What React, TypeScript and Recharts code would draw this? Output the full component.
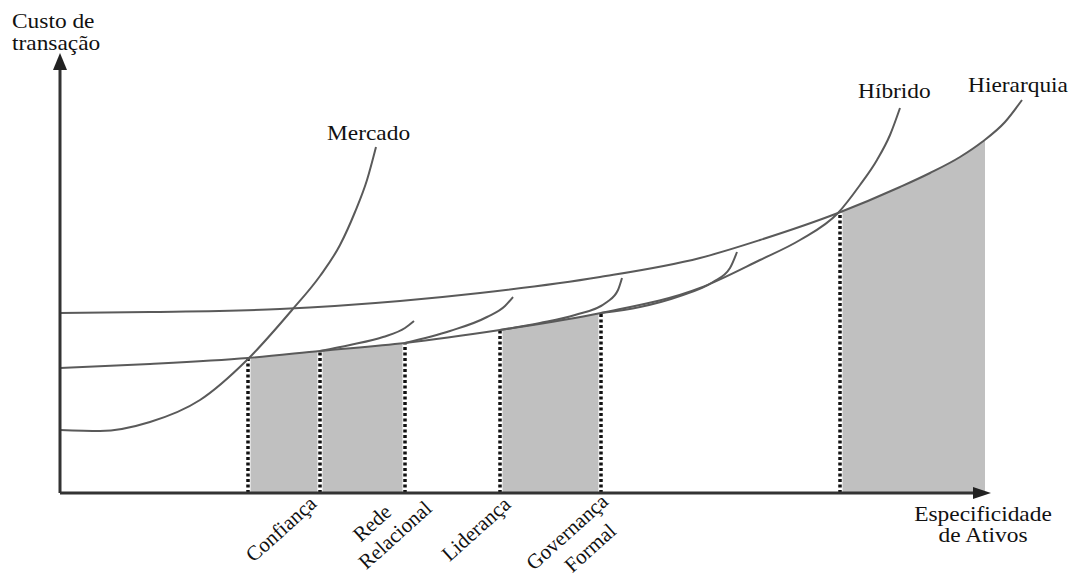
import React from 'react';
import { ComposedChart, Line, Area, XAxis, YAxis, ReferenceLine, ReferenceDot } from 'recharts';

// spec = especificidade de ativos, cost = custo de transação
const mercado = [
  { spec: 0, cost: 63 }, { spec: 40, cost: 62 }, { spec: 90, cost: 71 }, { spec: 140, cost: 93 },
  { spec: 187, cost: 133 }, { spec: 232, cost: 183 }, { spec: 260, cost: 217 }, { spec: 280, cost: 248 },
  { spec: 295, cost: 281 }, { spec: 307, cost: 313 }, { spec: 316, cost: 346 },
];

const hibrido = [
  { spec: 0, cost: 125 }, { spec: 90, cost: 129 }, { spec: 188, cost: 135 }, { spec: 260, cost: 142 },
  { spec: 345, cost: 150 }, { spec: 440, cost: 163 }, { spec: 541, cost: 180 }, { spec: 640, cost: 205 },
  { spec: 700, cost: 233 }, { spec: 740, cost: 253 }, { spec: 778, cost: 280 }, { spec: 800, cost: 308 },
  { spec: 817, cost: 333 }, { spec: 830, cost: 358 }, { spec: 840, cost: 385 },
];

const hierarquia = [
  { spec: 0, cost: 180 }, { spec: 90, cost: 181 }, { spec: 220, cost: 184 }, { spec: 340, cost: 192 },
  { spec: 420, cost: 200 }, { spec: 540, cost: 216 }, { spec: 640, cost: 235 }, { spec: 700, cost: 253 },
  { spec: 778, cost: 280 }, { spec: 840, cost: 306 }, { spec: 870, cost: 320 }, { spec: 900, cost: 336 },
  { spec: 922, cost: 351 }, { spec: 945, cost: 371 }, { spec: 962, cost: 393 },
];

// small branches leaving the hybrid curve
const ramo1 = [{ spec: 260, cost: 142 }, { spec: 290, cost: 148 }, { spec: 323, cost: 156 }, { spec: 345, cost: 165 }, { spec: 354, cost: 172 }];
const ramo2 = [{ spec: 345, cost: 150 }, { spec: 390, cost: 162 }, { spec: 427, cost: 176 }, { spec: 445, cost: 187 }, { spec: 453, cost: 196 }];
const ramo3 = [{ spec: 440, cost: 163 }, { spec: 480, cost: 170 }, { spec: 515, cost: 178 }, { spec: 547, cost: 191 }, { spec: 558, cost: 203 }, { spec: 562, cost: 215 }];
const ramo4 = [{ spec: 541, cost: 180 }, { spec: 580, cost: 186 }, { spec: 620, cost: 197 }, { spec: 653, cost: 211 }, { spec: 670, cost: 225 }, { spec: 677, cost: 241 }];

// shaded regions
const sombra1 = [{ spec: 188, cost: 135 }, { spec: 260, cost: 142 }];
const sombra2 = [{ spec: 260, cost: 142 }, { spec: 345, cost: 150 }];
const sombra3 = [{ spec: 440, cost: 163 }, { spec: 541, cost: 180 }];
const sombra4 = [{ spec: 778, cost: 280 }, { spec: 840, cost: 306 }, { spec: 870, cost: 320 }, { spec: 900, cost: 336 }, { spec: 925, cost: 353 }];

// dotted verticals
const divisoes = [
  { spec: 188, cost: 135 }, { spec: 260, cost: 142 }, { spec: 345, cost: 150 },
  { spec: 440, cost: 163 }, { spec: 541, cost: 180 }, { spec: 780, cost: 280 },
];

const tickValues = [260, 345, 440, 541];
const tickLabels = [['Confiança'], ['Rede', 'Relacional'], ['Liderança'], ['Governança', 'Formal']];
const labelPos = [[[-39, 529]], [[-33, 523], [-10, 535]], [[-24, 529]], [[-34, 532], [-11, 548]]];

const FONT = '"Liberation Serif", "Times New Roman", serif';
const CURVE = '#5a5a5a';

const RotatedTick = (props: any) => {
  const { x, index } = props;
  const lines = tickLabels[index] || [];
  return (
    <g>
      {lines.map((t, i) => {
        const [dx, ty] = labelPos[index][i];
        const tx = x + dx;
        return (
          <text key={i} x={tx} y={ty} transform={`rotate(-42 ${tx} ${ty})`} textAnchor="middle"
            dominantBaseline="central" fontFamily={FONT} fontSize={21} fill="#111">{t}</text>
        );
      })}
    </g>
  );
};

// horizontal labels, slightly widened like the source image
const Txt = ({ x, y, anchor = 'start', children }: any) => (
  <text transform={`translate(${x} ${y}) scale(1.17 1)`} textAnchor={anchor}
    fontFamily={FONT} fontSize={20} fill="#111">{children}</text>
);

export default function App() {
  return (
    <div style={{ position: 'absolute', left: 0, top: 0, width: 1080, height: 576, background: '#fff' }}>
      <ComposedChart width={1080} height={576} margin={{ top: 0, right: 0, bottom: 0, left: 60 }}>
        <XAxis type="number" dataKey="spec" domain={[0, 1020]} ticks={tickValues} interval={0}
          axisLine={false} tickLine={false} height={83} tick={<RotatedTick />} allowDataOverflow />
        <YAxis type="number" dataKey="cost" domain={[0, 493]} hide allowDataOverflow />

        {[sombra1, sombra2, sombra3, sombra4].map((d, i) => (
          <Area key={'s' + i} data={d} dataKey="cost" type="monotone" stroke="none" fill="#c0c0c0"
            fillOpacity={1} isAnimationActive={false} dot={false} activeDot={false} />
        ))}

        {divisoes.map((d, i) => (
          <ReferenceLine key={'w' + i} segment={[{ x: d.spec, y: 0 }, { x: d.spec, y: d.cost }]}
            stroke="#fff" strokeWidth={5} ifOverflow="visible" />
        ))}
        {divisoes.map((d, i) => (
          <ReferenceLine key={'d' + i} segment={[{ x: d.spec, y: 0 }, { x: d.spec, y: d.cost }]}
            stroke="#111" strokeWidth={3.5} strokeDasharray="3 2.5" ifOverflow="visible" />
        ))}

        {[mercado, hibrido, hierarquia, ramo1, ramo2, ramo3, ramo4].map((d, i) => (
          <Line key={'l' + i} data={d} dataKey="cost" type="monotone" stroke={CURVE} strokeWidth={2}
            dot={false} activeDot={false} isAnimationActive={false} />
        ))}

        <ReferenceLine segment={[{ x: 0, y: 0 }, { x: 0, y: 426 }]} stroke="#333" strokeWidth={3} ifOverflow="visible" />
        <ReferenceLine segment={[{ x: 0, y: 0 }, { x: 915, y: 0 }]} stroke="#333" strokeWidth={3} ifOverflow="visible" />
        <ReferenceDot x={0} y={440} ifOverflow="visible"
          shape={(p: any) => <polygon points={`${p.cx},${p.cy} ${p.cx - 7},${p.cy + 17} ${p.cx + 7},${p.cy + 17}`} fill="#222" />} />
        <ReferenceDot x={931} y={0} ifOverflow="visible"
          shape={(p: any) => <polygon points={`${p.cx},${p.cy} ${p.cx - 18},${p.cy - 6} ${p.cx - 18},${p.cy + 6}`} fill="#222" />} />

        <Txt x={12} y={28}>Custo de</Txt>
        <Txt x={12} y={50}>transação</Txt>
        <Txt x={983} y={521} anchor="middle">Especificidade</Txt>
        <Txt x={983} y={542} anchor="middle">de Ativos</Txt>
        <Txt x={327} y={140}>Mercado</Txt>
        <Txt x={858} y={98}>Híbrido</Txt>
        <Txt x={968} y={92}>Hierarquia</Txt>
      </ComposedChart>
    </div>
  );
}
